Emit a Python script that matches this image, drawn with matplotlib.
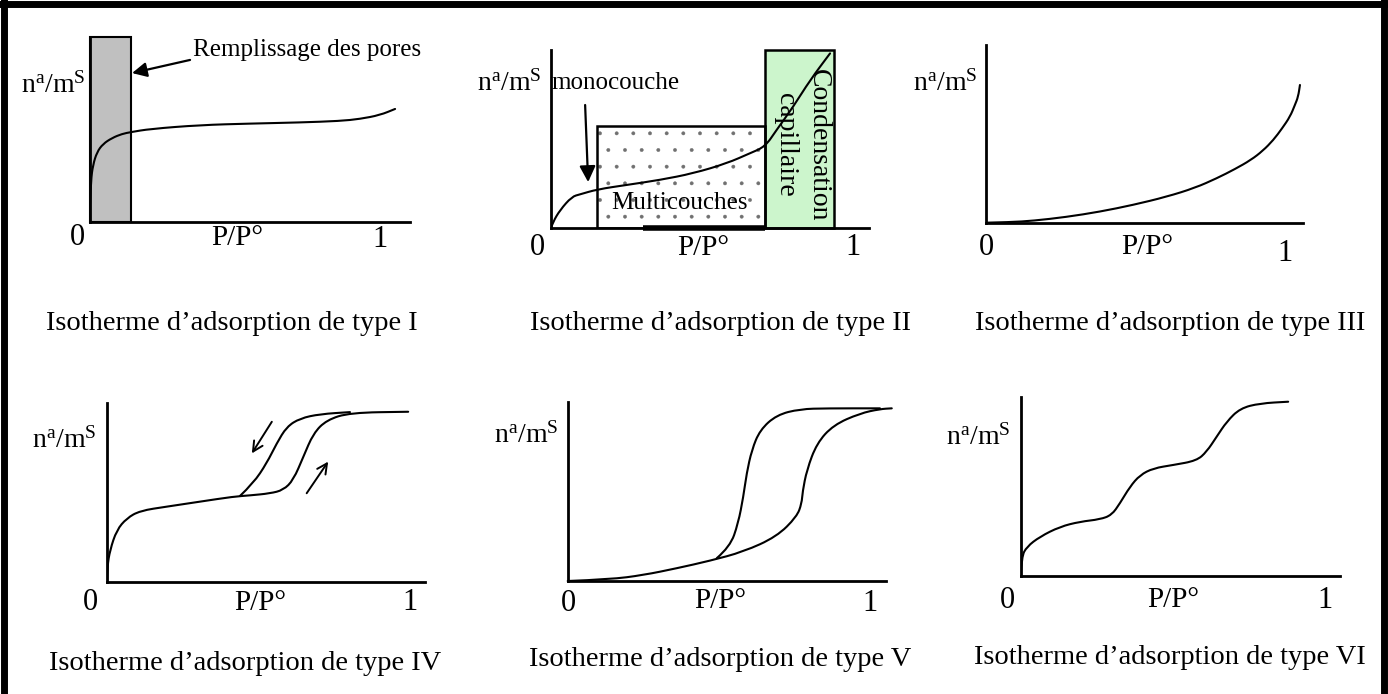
import matplotlib
matplotlib.use("Agg")
import matplotlib.pyplot as plt
from matplotlib.patches import Rectangle, PathPatch
from matplotlib.lines import Line2D
from matplotlib.path import Path

plt.rcParams['font.family'] = ['Liberation Serif', 'DejaVu Serif']
plt.rcParams['mathtext.fontset'] = 'custom'
plt.rcParams['mathtext.rm'] = 'Liberation Serif'
plt.rcParams['mathtext.it'] = 'Liberation Serif:italic'
plt.rcParams['hatch.linewidth'] = 0.3

# ---------------- data (x = P/P°, y = relative amount adsorbed) ----------------
titles = ["Isotherme d\u2019adsorption de type I", "Isotherme d\u2019adsorption de type II",
          "Isotherme d\u2019adsorption de type III", "Isotherme d\u2019adsorption de type IV",
          "Isotherme d\u2019adsorption de type V", "Isotherme d\u2019adsorption de type VI"]
ylabel = r"$\mathrm{n^a/m^S}$"
xlabel = "P/P\u00b0"
tick0, tick1 = "0", "1"

t1_x = [0, .0034, .0103, .0241, .0448, .0759, .110, .141, .207, .379, .552, .724, .862, .931, 1.0, 1.052]
t1_y = [.103, .227, .308, .378, .422, .454, .476, .486, .503, .524, .532, .538, .546, .557, .578, .611]
t1_pores = [0.0, 0.141]          # pore filling band (P/P° range)

t2_x = [0, .0066, .030, .069, .096, .153, .251, .361, .471, .582, .659, .709, .747, .802, .858, .924]
t2_y = [0, .034, .101, .176, .189, .217, .242, .270, .307, .363, .420, .457, .551, .681, .831, .981]
t2_multi = [0.152, 0.709, 0.573]   # x0, x1, height
t2_cond = [0.709, 0.937, 1.0]      # x0, x1, height
t2_under = [0.305, 0.709]

t3_x = [0, .080, .158, .268, .381, .492, .604, .699, .772, .833, .886, .926, .961, .990, 1.017, 1.033, 1.044, 1.050]
t3_y = [0, .003, .011, .032, .062, .100, .146, .196, .250, .302, .353, .405, .465, .530, .597, .662, .709, .775]

t4_ads_x = [0, .001, .010, .032, .065, .109, .197, .307, .417, .472, .538, .582, .615, .648, .681, .725, .802, .994]
t4_ads_y = [0, .084, .177, .289, .355, .397, .420, .448, .476, .483, .494, .513, .569, .699, .830, .905, .946, .951]
t4_des_x = [.439, .483, .527, .560, .593, .637, .703, .802]
t4_des_y = [.480, .551, .663, .774, .867, .914, .938, .949]

t5_ads_x = [0, .140, .250, .361, .471, .581, .691, .758, .774, .777, .791, .824, .879, .967, 1.033, 1.072]
t5_ads_y = [0, .009, .033, .071, .113, .163, .247, .359, .433, .498, .619, .768, .870, .935, .959, .963]
t5_des_x = [.493, .537, .564, .581, .592, .609, .636, .691, .768, .857, 1.033]
t5_des_y = [.127, .191, .322, .470, .601, .731, .842, .926, .959, .963, .963]

t6_x = [0, .003, .020, .063, .129, .195, .261, .299, .326, .359, .392, .436, .501, .578, .611, .644, .677, .721, .786, .879]
t6_y = [0, .108, .163, .219, .275, .303, .316, .340, .405, .498, .563, .601, .619, .643, .693, .777, .861, .935, .963, .972]

# ---------------- layout (pixels) ----------------
W, H = 1388, 694
fig = plt.figure(figsize=(W / 100, H / 100), dpi=100)
fig.patch.set_facecolor('white')

# frame of the picture
for (xs, ys) in [((4, 4), (0, H)), ((0, W), (3.5, 3.5)), ((W - 4.5, W - 4.5), (0, H))]:
    fig.add_artist(Line2D([x / W for x in xs], [1 - y / H for y in ys], color='black', lw=5))

# left, right, bottom, top (px), x of tick "1"
boxes = [
    (90, 410, 222, 37, 380),
    (551, 869, 228, 50, 853),
    (986, 1303, 222.7, 45, 1285),
    (107, 425, 581.7, 403, 410),
    (567.7, 886, 581, 401.7, 870),
    (1020.7, 1340, 576, 396.7, 1325),
]

axes = []
for (l, r, b, t, one) in boxes:
    ax = fig.add_axes([l / W, 1 - b / H, (r - l) / W, (b - t) / H])
    ax.set_xlim(0, (r - l) / (one - l))
    ax.set_ylim(0, 1)
    for s in ['top', 'right']:
        ax.spines[s].set_visible(False)
    for s in ['left', 'bottom']:
        ax.spines[s].set_linewidth(2.0)
        ax.spines[s].set_color('black')
    ax.set_xticks([]); ax.set_yticks([])
    ax.patch.set_alpha(0)
    axes.append(ax)

lw_c = 1.5
FS_T = 20.5
FS_AX = 22
FS_Y = 20


def smooth(ax, xs, ys, clip=True, z=3):
    """Draw a smooth curve through the read points (quadratic Bezier path)."""
    pts = list(zip(xs, ys))
    verts = [pts[0]]
    codes = [Path.MOVETO]
    for i in range(1, len(pts) - 1):
        m = ((pts[i][0] + pts[i + 1][0]) / 2, (pts[i][1] + pts[i + 1][1]) / 2)
        verts += [pts[i], m]
        codes += [Path.CURVE3, Path.CURVE3]
    verts.append(pts[-1])
    codes.append(Path.LINETO)
    ax.add_patch(PathPatch(Path(verts, codes), fill=False, edgecolor='black', lw=lw_c,
                           clip_on=clip, zorder=z, capstyle='round', joinstyle='round'))


def labels(ax, ylab_xy, zero_xy, p_xy, one_xy):
    ax.text(*ylab_xy, ylabel, ha='right', va='center', fontsize=FS_Y, clip_on=False)
    ax.text(*zero_xy, tick0, ha='center', va='center', fontsize=FS_AX, clip_on=False)
    ax.text(*p_xy, xlabel, ha='center', va='center', fontsize=FS_AX - 1, clip_on=False)
    ax.text(*one_xy, tick1, ha='center', va='center', fontsize=FS_AX, clip_on=False)


# ---- Type I ----
ax = axes[0]
ax.add_patch(Rectangle((t1_pores[0], 0), t1_pores[1] - t1_pores[0], 1.0, facecolor='#c0c0c0',
                       edgecolor='black', lw=1.5, zorder=1, clip_on=False))
smooth(ax, t1_x, t1_y)
ax.text(0.355, 0.93, "Remplissage des pores", fontsize=18, ha='left', va='center', clip_on=False)
ax.annotate("", xy=(0.145, 0.805), xytext=(0.345, 0.876), annotation_clip=False,
            arrowprops=dict(arrowstyle='-|>', color='black', lw=1.6, mutation_scale=22,
                            shrinkA=0, shrinkB=0))
labels(ax, (-0.017, 0.74), (-0.045, -0.086), (0.507, -0.086), (1.0, -0.097))

# ---- Type II ----
ax = axes[1]
ax.add_patch(Rectangle((t2_multi[0], 0), t2_multi[1] - t2_multi[0], t2_multi[2], facecolor='white',
                       edgecolor='#707070', lw=0, hatch='.', zorder=1))
ax.add_patch(Rectangle((t2_multi[0], 0), t2_multi[1] - t2_multi[0], t2_multi[2], fill=False,
                       edgecolor='black', lw=1.8, zorder=2))
ax.add_patch(Rectangle((t2_cond[0], 0), t2_cond[1] - t2_cond[0], t2_cond[2], facecolor='#ccf5cc',
                       edgecolor='black', lw=1.8, zorder=1, clip_on=False))
ax.plot(t2_under, [0, 0], color='black', lw=4, solid_capstyle='butt', zorder=2, clip_on=False)
smooth(ax, t2_x, t2_y)
ax.text(0.003, 0.815, "monocouche", fontsize=18, ha='left', va='center')
ax.annotate("", xy=(0.123, 0.258), xytext=(0.113, 0.691),
            arrowprops=dict(arrowstyle='-|>', color='black', lw=1.6, mutation_scale=24,
                            shrinkA=0, shrinkB=0))
ax.text(0.427, 0.140, "Multicouches", fontsize=18, ha='center', va='center', zorder=4)
ax.text(0.884, 0.466, "Condensation", fontsize=20, ha='center', va='center', rotation=270, zorder=4)
ax.text(0.775, 0.466, "capillaire", fontsize=20, ha='center', va='center', rotation=270, zorder=4)
labels(ax, (-0.03, 0.815), (-0.046, -0.112), (0.503, -0.112), (1.0, -0.112))

# ---- Type III ----
ax = axes[2]
smooth(ax, t3_x, t3_y)
labels(ax, (-0.027, 0.786), (0.003, -0.137), (0.538, -0.137), (1.0, -0.171))

# ---- Type IV ----
ax = axes[3]
smooth(ax, t4_ads_x, t4_ads_y)
smooth(ax, t4_des_x, t4_des_y)
ax.annotate("", xy=(0.478, 0.718), xytext=(0.544, 0.895),
            arrowprops=dict(arrowstyle='->', color='black', lw=1.4, mutation_scale=18,
                            shrinkA=0, shrinkB=0))
ax.annotate("", xy=(0.730, 0.672), xytext=(0.659, 0.495),
            arrowprops=dict(arrowstyle='->', color='black', lw=1.4, mutation_scale=18,
                            shrinkA=0, shrinkB=0))
labels(ax, (-0.033, 0.793), (-0.056, -0.119), (0.505, -0.119), (1.0, -0.119))

# ---- Type V ----
ax = axes[4]
smooth(ax, t5_ads_x, t5_ads_y, clip=False)
smooth(ax, t5_des_x, t5_des_y)
labels(ax, (-0.032, 0.814), (0.001, -0.123), (0.504, -0.112), (1.0, -0.123))

# ---- Type VI ----
ax = axes[5]
smooth(ax, t6_x, t6_y)
labels(ax, (-0.035, 0.775), (-0.045, -0.134), (0.500, -0.134), (1.0, -0.134))

# ---- titles ----
title_pos = [(232, 323), (720, 323), (1170, 323), (245, 663), (720, 660), (1170, 657)]
for txt, (x, y) in zip(titles, title_pos):
    fig.text(x / W, 1 - y / H, txt, ha='center', va='center', fontsize=FS_T)

fig.savefig("out.png", dpi=100)
